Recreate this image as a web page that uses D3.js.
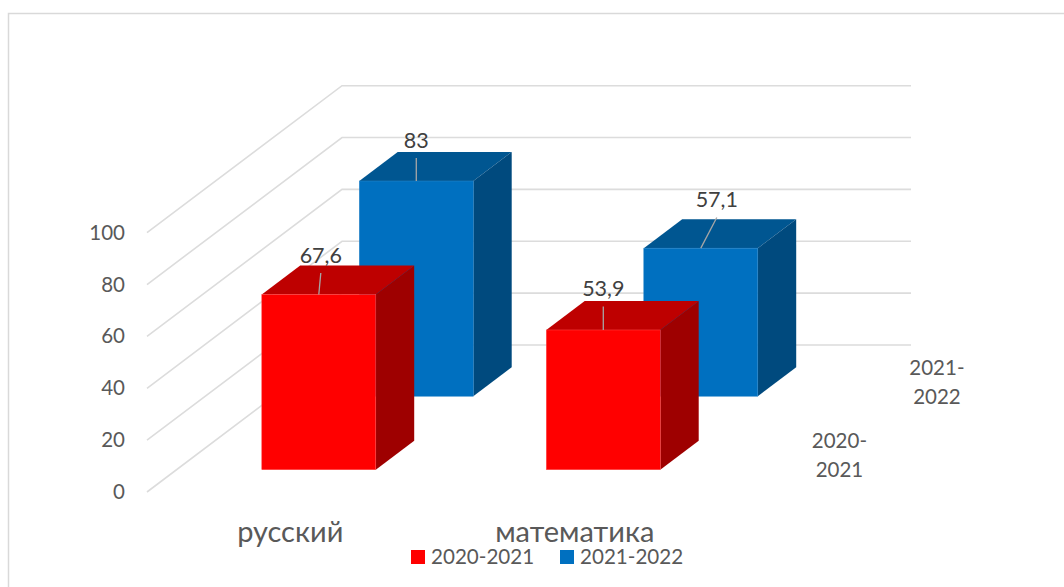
<!DOCTYPE html>
<html><head><meta charset="utf-8">
<script src="https://cdn.jsdelivr.net/npm/d3@7/dist/d3.min.js"></script>
<style>
html,body{margin:0;padding:0;background:#fff;overflow:hidden}
text{font-family:Lato,"Open Sans",sans-serif}
</style></head><body>
<svg id="c" width="1064" height="587"></svg>
<script>
const categories = ["русский", "математика"];
const seriesNames = ["2020-2021", "2021-2022"];
const values2020 = [67.6, 53.9];
const values2021 = [83, 57.1];
const valueLabels2020 = ["67,6", "53,9"];
const valueLabels2021 = ["83", "57,1"];
const yTicks = [0, 20, 40, 60, 80, 100];

const seriesStyle = [
  {front:"#FF0000", top:"#BE0000", side:"#9E0000", edge:"#FF4B4B"},
  {front:"#0070C0", top:"#005691", side:"#004A7E", edge:"#2A86C8"}
];
const seriesValues = [values2020, values2021];
const seriesLabels = [valueLabels2020, valueLabels2021];
// leader-line nudges [dx at label end, leader length, label baseline above bar]
const leaderNudge = [
  [[2, 21.5, 31], [0, 23.5, 34.3]],
  [[0, 23, 33], [16, 30.7, 41]]
];

const svg = d3.select("#c");
const y = d3.scaleLinear().domain([0, 100]).range([492, 232.7]);
const xBand = d3.scaleBand().domain(categories).range([147, 716]);
const depth = d3.scaleBand().domain(seriesNames).range([0, 1]);
const depthX = d3.scaleLinear().domain([0, 1]).range([0, 195]);
const depthY = d3.scaleLinear().domain([0, 1]).range([0, -147]);
const barW = 114, barD = 0.197;
const gridRight = 911, gridBackLeft = 147 + depthX(1);

// frame
svg.append("path").attr("d", "M8.5,587V13.5H1064").attr("fill", "none").attr("stroke", "#D9D9D9").attr("stroke-width", 1.5);

// gridlines
const line = d3.line();
svg.append("g").selectAll("path").data(yTicks).join("path")
  .attr("fill", "none").attr("stroke", "#DCDCDC").attr("stroke-width", 1.6)
  .attr("d", t => line([[147, y(t)], [gridBackLeft, y(t) + depthY(1)], [gridRight, y(t) + depthY(1)]]));

// value axis
const yAxis = svg.append("g").attr("transform", "translate(125,0)")
  .call(d3.axisLeft(y).tickValues(yTicks).tickSize(0).tickPadding(0).tickFormat(d3.format("d")));
yAxis.select(".domain").remove();
yAxis.selectAll("text").attr("fill", "#595959").style("font-size", "20.5px").style("font-family", "Lato");

// bars
const bars = [];
seriesNames.forEach((s, si) => categories.forEach((c, ci) => {
  bars.push({s, si, c, ci, v: seriesValues[si][ci], label: seriesLabels[si][ci], nudge: leaderNudge[si][ci]});
}));
function geom(b) {
  const d0 = depth(b.s) + depth.bandwidth() / 2 - barD / 2;
  const x0 = xBand(b.c) + (xBand.bandwidth() - barW) / 2 + depthX(d0);
  const y0 = y(0) + depthY(d0), yt = y(b.v) + depthY(d0);
  const dx = depthX(barD), dy = depthY(barD);
  return {x0, x1: x0 + barW, y0, yt, dx, dy};
}
const barG = svg.append("g");
bars.slice().sort((a, b) => b.si - a.si || a.ci - b.ci).forEach(b => {
  const g = geom(b), st = seriesStyle[b.si];
  const gb = barG.append("g");
  gb.append("path").attr("fill", st.top)
    .attr("d", line([[g.x0, g.yt], [g.x0 + g.dx, g.yt + g.dy], [g.x1 + g.dx, g.yt + g.dy], [g.x1, g.yt]]) + "Z");
  gb.append("path").attr("fill", st.side)
    .attr("d", line([[g.x1, g.yt], [g.x1 + g.dx, g.yt + g.dy], [g.x1 + g.dx, g.y0 + g.dy], [g.x1, g.y0]]) + "Z");
  gb.append("rect").attr("x", g.x0).attr("y", g.yt).attr("width", barW).attr("height", g.y0 - g.yt)
    .attr("fill", st.front).attr("stroke", st.edge).attr("stroke-width", 0.5);
});

// leaders and data labels
const lab = svg.append("g");
bars.forEach(b => {
  const g = geom(b), xc = (g.x0 + g.x1) / 2, [ndx, len, up] = b.nudge;
  lab.append("line").attr("x1", xc).attr("y1", g.yt).attr("x2", xc + ndx).attr("y2", g.yt - len)
    .attr("stroke", "#A6A6A6").attr("stroke-width", 1.3);
  lab.append("text").attr("x", xc + ndx).attr("y", g.yt - up).attr("text-anchor", "middle")
    .attr("fill", "#404040").style("font-size", "21.5px").text(b.label);
});

// category labels
svg.append("g").selectAll("text").data(categories).join("text")
  .attr("x", c => xBand(c) + xBand.bandwidth() / 2 + 1).attr("y", 542)
  .attr("text-anchor", "middle").attr("fill", "#595959").style("font-size", "29px").text(c => c);

// series (depth) axis labels
seriesNames.forEach(s => {
  const d = depth(s) + depth.bandwidth() / 2;
  const parts = s.split("-");
  const t = svg.append("text").attr("text-anchor", "middle").attr("fill", "#595959").style("font-size", "20.5px");
  const x = 790.7 + depthX(d), yy = 485 + depthY(d);
  t.append("tspan").attr("x", x).attr("y", yy).text(parts[0] + "-");
  t.append("tspan").attr("x", x).attr("y", yy + 29).text(parts[1]);
});

// legend
const legendX = d3.scaleOrdinal().domain(seriesNames).range([411, 560]);
const leg = svg.append("g").selectAll("g").data(seriesNames).join("g")
  .attr("transform", s => `translate(${legendX(s)},550)`);
leg.append("rect").attr("width", 14).attr("height", 14).attr("fill", (s, i) => seriesStyle[i].front);
leg.append("text").attr("x", 20).attr("y", 13.7).attr("fill", "#595959").style("font-size", "20.6px").text(s => s);
</script>
</body></html>
